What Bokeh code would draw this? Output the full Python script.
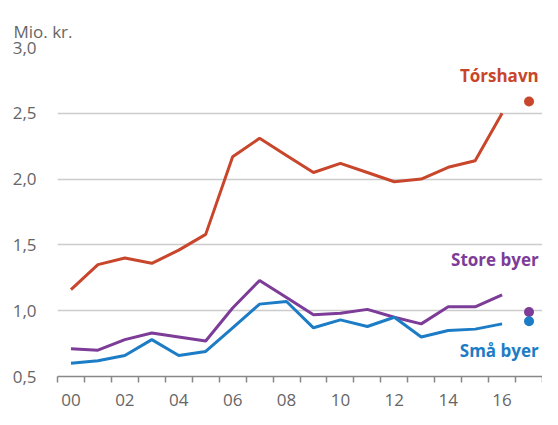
from bokeh.plotting import figure
from bokeh.models import FixedTicker, Range1d, Label
from bokeh.embed import file_html
from bokeh.resources import INLINE

years = list(range(2000, 2017))
year_labels = ["00", "02", "04", "06", "08", "10", "12", "14", "16"]
torshavn = [1.16, 1.35, 1.40, 1.36, 1.46, 1.58, 2.17, 2.31, 2.18, 2.05, 2.12, 2.05, 1.98, 2.00, 2.09, 2.14, 2.50]
store_byer = [0.71, 0.70, 0.78, 0.83, 0.80, 0.77, 1.02, 1.23, 1.10, 0.97, 0.98, 1.01, 0.95, 0.90, 1.03, 1.03, 1.12]
smaa_byer = [0.60, 0.62, 0.66, 0.78, 0.66, 0.69, 0.87, 1.05, 1.07, 0.87, 0.93, 0.88, 0.95, 0.80, 0.85, 0.86, 0.90]
dot_year = 2017
dot_values = {"Tórshavn": 2.59, "Store byer": 0.99, "Små byer": 0.92}
y_ticks = [0.5, 1.0, 1.5, 2.0, 2.5, 3.0]
y_tick_labels = ["0,5", "1,0", "1,5", "2,0", "2,5", "3,0"]

RED = "#C8462B"
PURPLE = "#7D3C98"
BLUE = "#1C7CC5"
GREY = "#666666"
FONT = "Open Sans"

idx = [y - 2000 for y in years]
p = figure(width=542, height=409, output_backend="svg", toolbar_location=None,
           x_range=Range1d(-0.5, 17.5), y_range=Range1d(0.5, 3.0),
           min_border_left=57, min_border_right=0, min_border_top=47, min_border_bottom=33)
p.outline_line_color = None
p.background_fill_color = "white"
p.border_fill_color = "white"

p.title.text = "Mio. kr."
p.title.align = "left"
p.title.offset = -44
p.title.text_font = FONT
p.title.text_font_style = "normal"
p.title.text_font_size = "17px"
p.title.text_line_height = 1.8
p.title.text_color = GREY

# grid
p.xgrid.grid_line_color = None
p.ygrid.ticker = FixedTicker(ticks=y_ticks[1:])
p.ygrid.grid_line_color = "#cccccc"
p.ygrid.grid_line_width = 1.5

# y axis
p.yaxis.ticker = FixedTicker(ticks=y_ticks)
p.yaxis.major_label_overrides = {t: l for t, l in zip(y_ticks, y_tick_labels)}
p.yaxis.axis_line_color = None
p.yaxis.major_tick_line_color = None
p.yaxis.minor_tick_line_color = None
p.yaxis.major_label_standoff = 15
p.yaxis.major_label_text_font = FONT
p.yaxis.major_label_text_font_size = "17px"
p.yaxis.major_label_text_color = GREY

# x axis
major = [int(l) for l in year_labels]
p.xaxis.ticker = FixedTicker(ticks=major, minor_ticks=[i - 0.5 for i in range(19)])
p.xaxis.major_label_overrides = {m: l for m, l in zip(major, year_labels)}
p.xaxis.major_tick_out = 0
p.xaxis.major_tick_in = 0
p.xaxis.minor_tick_out = 6
p.xaxis.minor_tick_in = 0
p.xaxis.minor_tick_line_color = "#888888"
p.xaxis.minor_tick_line_width = 1.5
p.xaxis.axis_line_color = "#888888"
p.xaxis.axis_line_width = 1.5
p.xaxis.major_label_standoff = 11
p.xaxis.major_label_text_font = FONT
p.xaxis.major_label_text_font_size = "17px"
p.xaxis.major_label_text_color = GREY

series = [(torshavn, RED, "Tórshavn"), (store_byer, PURPLE, "Store byer"), (smaa_byer, BLUE, "Små byer")]
for vals, col, name in series:
    p.line(idx, vals, line_color=col, line_width=3)
    p.scatter([dot_year - 2000], [dot_values[name]], size=10, fill_color=col, line_color=None)

label_pos = {"Tórshavn": 2.79, "Store byer": 1.39, "Små byer": 0.70}
for vals, col, name in series:
    p.add_layout(Label(x=17.36, y=label_pos[name], text=name, text_align="right", text_baseline="middle",
                       text_font=FONT, text_font_style="bold", text_font_size="17px", text_color=col))

open("out.html", "w").write(file_html(p, INLINE))
